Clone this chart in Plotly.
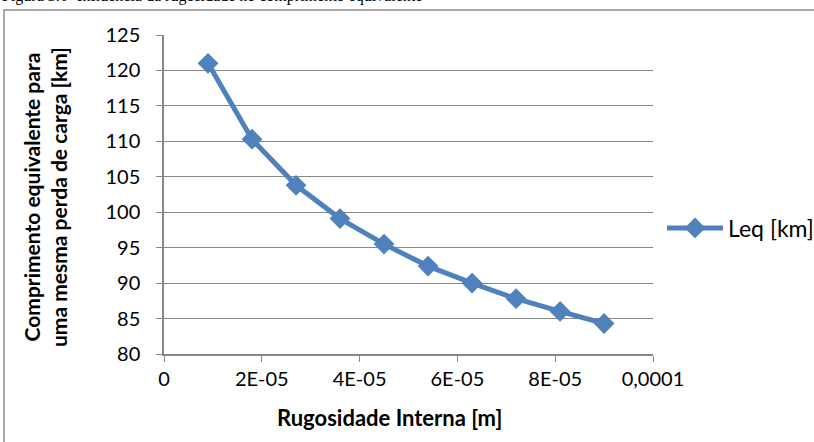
import plotly.graph_objects as go

rugosidade = [9e-6, 1.8e-5, 2.7e-5, 3.6e-5, 4.5e-5, 5.4e-5, 6.3e-5, 7.2e-5, 8.1e-5, 9e-5]
leq_km = [121.0, 110.3, 103.8, 99.1, 95.5, 92.4, 90.0, 87.8, 86.0, 84.3]
x_tickvals = [0, 2e-5, 4e-5, 6e-5, 8e-5, 1e-4]
x_ticktext = ["0", "2E-05", "4E-05", "6E-05", "8E-05", "0,0001"]
y_tickvals = [80, 85, 90, 95, 100, 105, 110, 115, 120, 125]

W, H = 814, 442
L, R, T, B = 164, 161, 35, 88
pw, ph = W - L - R, H - T - B

def px(xp):
    return (xp - L) / pw

def py(yp):
    return (H - B - yp) / ph

fig = go.Figure()
fig.add_trace(go.Scatter(
    x=rugosidade, y=leq_km, mode="lines+markers", name="Leq [km]",
    line=dict(color="#4F81BD", width=5),
    marker=dict(symbol="diamond", size=16, color="#4F81BD"),
))

grid = "#878787"
fig.update_layout(
    width=W, height=H,
    margin=dict(l=L, r=R, t=T, b=B, autoexpand=False),
    paper_bgcolor="white", plot_bgcolor="white",
    font=dict(family="Lato, Open Sans, sans-serif", size=20, color="black"),
    showlegend=True,
    legend=dict(x=px(662), y=py(228), xanchor="left", yanchor="middle",
                font=dict(size=23), bgcolor="rgba(0,0,0,0)", itemwidth=56),
    xaxis=dict(range=[0, 1e-4], tickvals=x_tickvals, ticktext=x_ticktext,
               showgrid=False, zeroline=False, showline=True, linecolor=grid,
               linewidth=1.5, ticks="outside", ticklen=6, tickcolor=grid,
               ticklabelstandoff=0, fixedrange=True),
    yaxis=dict(range=[80, 125], tickvals=y_tickvals,
               showgrid=True, gridcolor=grid, gridwidth=1.2, zeroline=False,
               showline=True, linecolor=grid, linewidth=1.5,
               ticks="outside", ticklen=6, tickcolor=grid,
               ticklabelstandoff=12, fixedrange=True),
)

fig.add_shape(type="rect", xref="paper", yref="paper",
              x0=px(4), x1=px(900), y0=py(600), y1=py(10),
              line=dict(color="#8c8c8c", width=1.5), fillcolor="rgba(0,0,0,0)", layer="below")

fig.add_annotation(xref="paper", yref="paper", x=px(389), y=py(417), xanchor="center", yanchor="middle",
                   text="<b>Rugosidade Interna [m]</b>", showarrow=False, font=dict(size=22))

fig.add_annotation(xref="paper", yref="paper", x=px(45), y=py(197), xanchor="center", yanchor="middle",
                   text="<b>Comprimento equivalente para<br>uma mesma perda de carga [km]</b>",
                   textangle=-90, showarrow=False, font=dict(size=21))

fig.add_annotation(xref="paper", yref="paper", x=px(0), y=py(7), xanchor="left", yanchor="bottom",
                   text="Figura 3.6 -Influência da rugosidade no comprimento equivalente",
                   showarrow=False, font=dict(family="Liberation Serif, serif", size=16, color="black"))

fig.write_html("out.html")
